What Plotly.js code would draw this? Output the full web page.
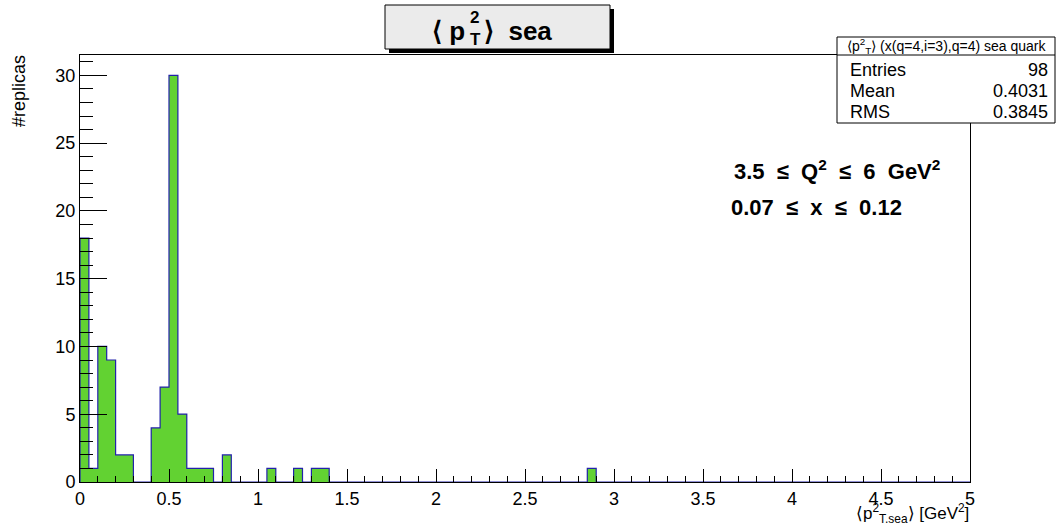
<!DOCTYPE html>
<html>
<head>
<meta charset="utf-8">
<script src="https://cdn.plot.ly/plotly-3.0.1.min.js"></script>
<style>
  html, body { margin: 0; padding: 0; background: #ffffff; }
  #chart { width: 1056px; height: 523px; }
</style>
</head>
<body>
<div id="chart"></div>
<script>
// Histogram of <pT^2> for sea quarks over the replicas (bin width 0.05 GeV^2)
const binLowEdges = [0.00, 0.05, 0.10, 0.15, 0.20, 0.25, 0.40, 0.45, 0.50, 0.55,
                     0.60, 0.65, 0.70, 0.80, 1.05, 1.20, 1.30, 1.35, 2.85];
const binCounts   = [18, 1, 10, 9, 2, 2, 4, 7, 30, 5,
                     1, 1, 1, 2, 1, 1, 1, 1, 1];
const statLabels  = ['Entries', 'Mean', 'RMS'];
const statValues  = ['98', '0.4031', '0.3845'];
const xTickValues = [0, 0.5, 1, 1.5, 2, 2.5, 3, 3.5, 4, 4.5, 5];

const BIN_W = 0.05, X_MIN = 0, X_MAX = 5;
const nBins = Math.round((X_MAX - X_MIN) / BIN_W);

// full bin contents
const full = new Array(nBins).fill(0);
binLowEdges.forEach((lo, i) => {
  full[Math.round((lo - X_MIN) / BIN_W)] = binCounts[i];
});

// bar centres for the filled bins
const barX = binLowEdges.map(lo => lo + BIN_W / 2);

// step outline of the histogram
const stepX = [X_MIN], stepY = [0];
for (let i = 0; i < nBins; i++) {
  const lo = X_MIN + i * BIN_W;
  stepX.push(lo, lo + BIN_W);
  stepY.push(full[i], full[i]);
}
stepX.push(X_MAX); stepY.push(0);

const FONT = 'Liberation Sans, Arial, Helvetica, sans-serif';
const SP = '\u00A0';

// pixel helpers for the decorations around the frame
const W = 1056, H = 523, L = 80, R = 86, T = 55, B = 41;
const PW = W - L - R, PH = H - T - B;
const px = x => (x - L) / PW;
const py = y => (H - B - y) / PH;

const traces = [
  {
    type: 'bar', x: barX, y: binCounts, width: BIN_W,
    marker: { color: 'rgb(98,210,50)', line: { width: 0 } },
    hoverinfo: 'skip'
  },
  {
    type: 'scatter', mode: 'lines', x: stepX, y: stepY,
    line: { color: '#2222aa', width: 1.2 },
    hoverinfo: 'skip'
  }
];

const shapes = [
  // title box shadow + box
  { type: 'rect', xref: 'paper', yref: 'paper', x0: px(389), x1: px(614), y0: py(53), y1: py(9),
    fillcolor: '#000000', line: { width: 0 } },
  { type: 'rect', xref: 'paper', yref: 'paper', x0: px(385), x1: px(610), y0: py(49), y1: py(5),
    fillcolor: '#ebebeb', line: { color: '#000000', width: 1 } },
  // statistics box
  { type: 'rect', xref: 'paper', yref: 'paper', x0: px(837), x1: px(1055), y0: py(123), y1: py(37),
    fillcolor: '#ffffff', line: { color: '#000000', width: 1 } },
  { type: 'line', xref: 'paper', yref: 'paper', x0: px(837), x1: px(1055), y0: py(55), y1: py(55),
    line: { color: '#000000', width: 1 } }
];

const ann = (x, y, text, size, opts) => Object.assign({
  xref: 'paper', yref: 'paper', x: px(x), y: py(y), text: text, showarrow: false,
  font: { family: FONT, size: size, color: '#000000' }, xanchor: 'left', yanchor: 'middle'
}, opts || {});

const annotations = [
  // title
  ann(467, 31, '<b>⟨ p</b>', 26, { xanchor: 'right' }),
  ann(468, 18, '<b>2</b>', 17),
  ann(468, 40, '<b>T</b>', 17),
  ann(482, 31, '<b>⟩' + SP + ' sea</b>', 26),
  // statistics box header
  ann(946, 46, '⟨p<sup>2</sup><sub>T</sub>⟩ (x(q=4,i=3),q=4) sea quark', 14, { xanchor: 'center' }),
  // kinematic range
  ann(732, 170, '<b>3.5' + SP + ' ≤' + SP + ' Q<sup>2</sup>' + SP + ' ≤' + SP + ' 6' + SP + ' GeV<sup>2</sup></b>', 22),
  ann(729, 208, '<b>0.07' + SP + ' ≤' + SP + ' x' + SP + ' ≤' + SP + ' 0.12</b>', 22),
  // axis titles
  ann(971, 513, '⟨p<sup>2</sup><sub>T,sea</sub>⟩ [GeV<sup>2</sup>]', 17, { xanchor: 'right' }),
  ann(19, 53, '#replicas', 18, { textangle: -90, xanchor: 'center', yanchor: 'top' })
];
statLabels.forEach((lab, i) => {
  const y = 70 + i * 21;
  annotations.push(ann(848, y, lab, 18));
  annotations.push(ann(1050, y, statValues[i], 18, { xanchor: 'right' }));
});

const layout = {
  width: W, height: H,
  margin: { l: L, r: R, t: T, b: B, pad: 0 },
  paper_bgcolor: '#ffffff', plot_bgcolor: '#ffffff',
  showlegend: false, bargap: 0,
  font: { family: FONT, size: 18, color: '#000000' },
  xaxis: {
    range: [X_MIN, X_MAX], tickvals: xTickValues,
    ticks: 'inside', ticklen: 13, tickcolor: '#000', tickwidth: 1,
    minor: { dtick: 0.1, tick0: 0, ticks: 'inside', ticklen: 6, tickcolor: '#000', tickwidth: 1 },
    showline: true, mirror: true, linecolor: '#000', linewidth: 1,
    showgrid: false, zeroline: false,
    tickfont: { family: FONT, size: 18, color: '#000' }
  },
  yaxis: {
    range: [0, 31.5], tick0: 0, dtick: 5,
    ticks: 'inside', ticklen: 27, tickcolor: '#000', tickwidth: 1,
    minor: { dtick: 1, tick0: 0, ticks: 'inside', ticklen: 13, tickcolor: '#000', tickwidth: 1 },
    showline: true, mirror: true, linecolor: '#000', linewidth: 1,
    showgrid: false, zeroline: false,
    tickfont: { family: FONT, size: 18, color: '#000' }
  },
  shapes: shapes,
  annotations: annotations
};

Plotly.newPlot('chart', traces, layout, { staticPlot: true, displayModeBar: false });
</script>
</body>
</html>
